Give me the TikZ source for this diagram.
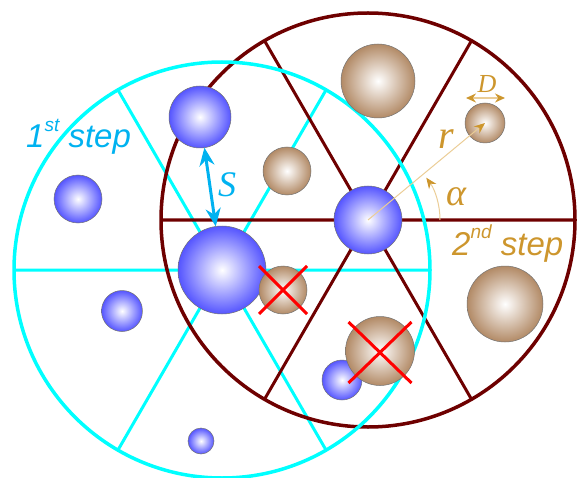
\documentclass[tikz,border=0pt]{standalone}
\usepackage{fontspec}
\setmainfont{Liberation Sans}
\newfontfamily\serf{Liberation Serif}
\usetikzlibrary{arrows.meta}
\definecolor{bedge}{RGB}{85,85,255}
\definecolor{tedge}{RGB}{178,138,102}
\definecolor{cyanline}{RGB}{0,255,255}
\definecolor{cyantext}{RGB}{0,178,240}
\definecolor{darkred}{RGB}{110,0,0}
\definecolor{gold}{RGB}{205,150,45}
\definecolor{tanl}{RGB}{235,205,150}
\pgfdeclareradialshading{bluesph}{\pgfpoint{0bp}{0bp}}{color(0bp)=(white); color(25bp)=(bedge); color(50bp)=(bedge)}
\pgfdeclareradialshading{tansph}{\pgfpoint{0bp}{0bp}}{color(0bp)=(white); color(25bp)=(tedge); color(50bp)=(tedge)}
\tikzset{
  sph/.style={circle, inner sep=0pt, outer sep=0pt, draw=black!55, line width=0.5pt},
  bsph/.style={sph, shade, shading=bluesph},
  tsph/.style={sph, shade, shading=tansph},
  cyanspoke/.style={cyanline, line width=3pt},
  redspoke/.style={darkred, line width=3pt},
  cyancirc/.style={cyanline, line width=3.5pt},
  redcirc/.style={darkred, line width=3.5pt},
  xcross/.style={red, line width=3pt},
  sarr/.style={cyantext, line width=3pt, {Stealth[length=18pt,width=15pt]}-{Stealth[length=18pt,width=15pt]}},
  tanline/.style={tanl, line width=1pt},
  gtip/.style={Stealth[length=11pt,width=9pt,color=gold]},
  steplabel/.style={anchor=base west, inner sep=0pt, font=\itshape\fontsize{33}{40}\selectfont},
}
\newcommand{\supr}[1]{\raisebox{16.5pt}{\fontsize{19}{19}\selectfont #1}}
\begin{document}
\begin{tikzpicture}[x=1pt,y=-1pt]
\useasboundingbox (0,0) rectangle (580,478);
\coordinate (C1) at (222,270);
\coordinate (C2) at (368,220);
% cyan spokes
\coordinate (c1a) at (430,270);
\coordinate (c1b) at (14,270);
\coordinate (c1c) at (326,90);
\coordinate (c1d) at (118,450);
\coordinate (c1e) at (118,90);
\coordinate (c1f) at (326,450);
\draw[cyanspoke] (c1a) -- (c1b) (c1c) -- (c1d) (c1e) -- (c1f);
% dark red spokes
\coordinate (c2a) at (575,220);
\coordinate (c2b) at (161,220);
\coordinate (c2c) at (471.5,40.7);
\coordinate (c2d) at (264.5,399.3);
\coordinate (c2e) at (264.5,40.7);
\coordinate (c2f) at (471.5,399.3);
\draw[redspoke] (c2a) -- (c2b) (c2c) -- (c2d) (c2e) -- (c2f);
\draw[redcirc] (C2) circle[radius=207];
\draw[cyancirc] (C1) circle[radius=208];
% blue spheres
\node[bsph, minimum size=62pt] (b1) at (200,117) {};
\node[bsph, minimum size=48pt] (b2) at (78,199) {};
\node[bsph, minimum size=88pt] (B) at (222,270) {};
\node[bsph, minimum size=41pt] (b4) at (122,311) {};
\node[bsph, minimum size=26pt] (b5) at (201,441) {};
\node[bsph, minimum size=68pt] (c) at (368,220) {};
\node[bsph, minimum size=40pt] (b7) at (342,380) {};
% tan spheres
\node[tsph, minimum size=74pt] (t1) at (378,81) {};
\node[tsph, minimum size=48pt] (t2) at (287,171) {};
\node[tsph, minimum size=40pt] (d) at (485,123) {};
\node[tsph, minimum size=48pt] (x1) at (283,290) {};
\node[tsph, minimum size=69pt] (x2) at (380,351) {};
\node[tsph, minimum size=76pt] (t6) at (505,304) {};
% crosses
\draw[xcross] ([shift={(-24pt,24pt)}]x1.center) -- ([shift={(24pt,-24pt)}]x1.center)
              ([shift={(-24pt,-24pt)}]x1.center) -- ([shift={(24pt,24pt)}]x1.center);
\draw[xcross] ([shift={(-31.5pt,29pt)}]x2.center) -- ([shift={(31.5pt,-32pt)}]x2.center)
              ([shift={(-31.5pt,-32pt)}]x2.center) -- ([shift={(31.5pt,29pt)}]x2.center);
% r, alpha, D
\draw[tanline, -{Stealth[length=11pt,width=9pt,color=gold]}] (c.center) -- (d.center);
\draw[tanline, -{Stealth[length=11pt,width=9pt,color=gold]}] ([xshift=72pt]c.center) arc[start angle=0, end angle=-36, radius=72];
\draw[tanline, line width=1.3pt, {Stealth[length=10pt,width=9pt,color=gold]}-{Stealth[length=10pt,width=9pt,color=gold]}] ([shift={(-19pt,25pt)}]d.center) -- ([shift={(20pt,25pt)}]d.center);
\node[text=gold, font=\serf\itshape\fontsize{26}{26}\selectfont] (Dl) at (487,84) {D};
\node[text=gold, font=\serf\itshape\fontsize{40}{40}\selectfont] (rl) at (446,139) {r};
\node[text=gold, font=\serf\itshape\fontsize{38}{38}\selectfont] (al) at (456,197) {α};
% S arrow
\draw[sarr] (b1) -- (B);
\node[text=cyantext, font=\serf\itshape\fontsize{36}{36}\selectfont] (Sl) at (227,185) {S};
% step labels
\node[steplabel, text=cyantext] (s1) at (26,148) {1\supr{st} step};
\node[steplabel, text=gold] (s2) at (452,255) {2\supr{nd} step};
\end{tikzpicture}
\end{document}
